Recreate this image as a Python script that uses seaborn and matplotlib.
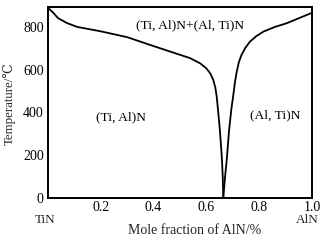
import matplotlib
matplotlib.use("Agg")
import matplotlib.pyplot as plt
import seaborn as sns
import pandas as pd

# Phase boundary (binodal) data
left_x = [0.0, 0.008, 0.02, 0.038, 0.072, 0.11, 0.197, 0.30, 0.386, 0.462, 0.538, 0.576,
          0.600, 0.615, 0.626, 0.634, 0.639, 0.643, 0.647, 0.651, 0.655, 0.659, 0.662, 0.664]
left_y = [890, 880, 866, 841, 818, 800, 780, 752, 716, 685, 654, 630,
          606, 582, 552, 515, 474, 425, 372, 318, 250, 178, 95, 0]
right_x = [0.664, 0.670, 0.677, 0.686, 0.695, 0.702, 0.708, 0.715, 0.723, 0.733, 0.748, 0.765,
           0.788, 0.816, 0.860, 0.904, 1.0]
right_y = [0, 90, 178, 318, 420, 482, 540, 591, 635, 669, 703, 731,
           756, 778, 800, 817, 866]

x_ticks = [0.0, 0.2, 0.4, 0.6, 0.8, 1.0]
x_tick_labels = ["", "0.2", "0.4", "0.6", "0.8", "1.0"]
y_ticks = [0, 200, 400, 600, 800]

end_labels = ["TiN", "AlN"]
end_x = [45, 307]

region_labels = ["(Ti, Al)N+(Al, Ti)N", "(Ti, Al)N", "(Al, Ti)N"]
region_x = [0.54, 0.276, 0.86]
region_y = [808, 378, 388]

sns.set_theme(style="white")
plt.rcParams["font.family"] = ["Liberation Serif", "DejaVu Serif"]

fig = plt.figure(figsize=(3.22, 2.46), dpi=100)
ax = fig.add_axes([48 / 322, 1 - 198 / 246, 264 / 322, 191 / 246])

df_l = pd.DataFrame({"x": left_x, "y": left_y})
df_r = pd.DataFrame({"x": right_x, "y": right_y})
sns.lineplot(data=df_l, x="x", y="y", sort=False, color="black", linewidth=1.3, ax=ax)
sns.lineplot(data=df_r, x="x", y="y", sort=False, color="black", linewidth=1.3, ax=ax)

ax.set_xlim(0, 1.0)
ax.set_ylim(0, 893)
ax.set_xticks(x_ticks)
ax.set_xticklabels(x_tick_labels, fontsize=10)
ax.set_yticks(y_ticks)
ax.set_yticklabels([str(v) for v in y_ticks], fontsize=10)
ax.tick_params(axis="x", direction="in", length=3, width=1, pad=2, colors="black", labelcolor="black")
ax.tick_params(axis="y", direction="in", length=3, width=1, pad=3, colors="black", labelcolor="black")
ax.set_xlabel("")
ax.set_ylabel("")
for s in ax.spines.values():
    s.set_visible(True)
    s.set_color("black")
    s.set_linewidth(1.4)

for t, xx, yy in zip(region_labels, region_x, region_y):
    ax.text(xx, yy, t, ha="center", va="center", fontsize=9.7, color="black")

for t, xx in zip(end_labels, end_x):
    fig.text(xx / 322, 1 - 220 / 246, t, ha="center", va="center", fontsize=9.5)

fig.text(195 / 322, 1 - 230 / 246, "Mole fraction of AlN/%", ha="center", va="center", fontsize=10)
fig.text(9 / 322, 1 - 104 / 246, "Temperature/℃", ha="center", va="center", rotation=90, fontsize=9.3)

fig.savefig("out.png", dpi=100, facecolor="white")
